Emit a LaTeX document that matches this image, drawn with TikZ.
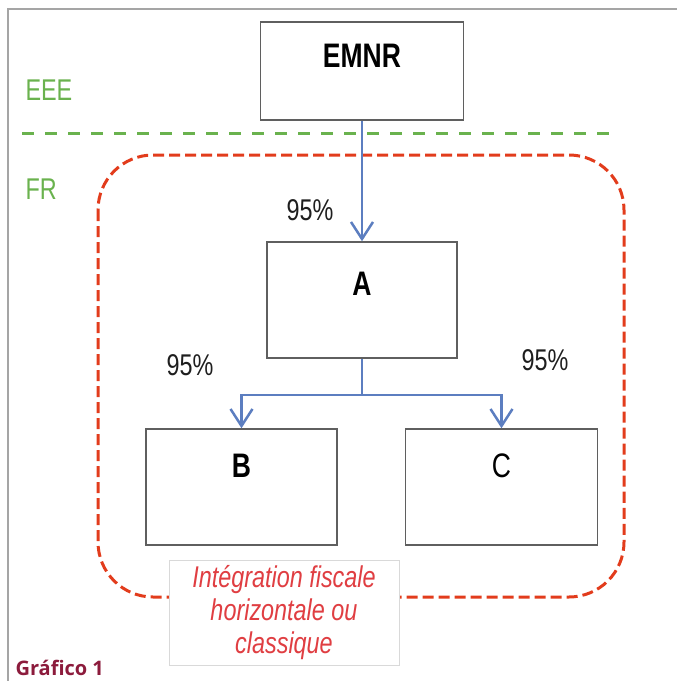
\documentclass[tikz,border=0pt]{standalone}
\usepackage{fontspec}
\setmainfont{Liberation Sans}[FakeStretch=0.78]
\newfontfamily\graficofont{Open Sans}
\usetikzlibrary{
    positioning,
    arrows.meta
}
\definecolor{framegray}{RGB}{165,165,165}
\definecolor{boxgray}{RGB}{95,95,95}
\definecolor{eeegreen}{RGB}{106,178,78}
\definecolor{frred}{RGB}{226,60,28}
\definecolor{notered}{RGB}{224,62,66}
\definecolor{linkblue}{RGB}{92,126,192}
\definecolor{inkgray}{RGB}{30,30,30}
\definecolor{graficored}{RGB}{140,27,60}
\newcommand{\diagfont}{\fontsize{30}{33}\selectfont}
\newcommand{\entityfont}{\fontsize{34}{40}\selectfont}
\tikzset{
    >={Straight Barb[length=17pt,width=22pt]},
    entity/.style={
        draw=boxgray,
        line width=1.5pt,
        fill=white,
        inner sep=0pt
    },
    entitytext/.style={
        anchor=base,
        text=black,
        font=\entityfont
    },
    share/.style={
        anchor=base,
        text=inkgray,
        font=\diagfont
    },
    zone/.style={
        anchor=base west,
        text=eeegreen,
        font=\diagfont
    },
    zonesep/.style={
        draw=eeegreen,
        line width=3pt,
        dash pattern=on 12pt off 11pt
    },
    zoneborder/.style={
        draw=frred,
        line width=3pt,
        dash pattern=on 11pt off 5pt,
        rounded corners=55pt
    },
    link/.style={
        draw=linkblue,
        line width=2.5pt
    }
}
\begin{document}
\begin{tikzpicture}[
    x=1pt,
    y=-1pt
]
    \useasboundingbox (0,0) rectangle (677,681);

    % Cadre
    \draw[framegray, line width=1.5pt] (8,681) -- (8,9) -- (677,9);

    % Zones
    \node[zone] (eee) at (22,100) {EEE};
    \node[zone] (fr)  at (22,199) {FR};
    \draw[zonesep] (22,133) -- (617,133);
    \draw[zoneborder] (98,155) rectangle (624,597);

    % Entites
    \node[entity, minimum width=203, minimum height=98] (emnr) at (362,71)
        {};
    \node[entitytext, font=\entityfont\bfseries] (emnrtext)
        at ([yshift=-46pt]emnr.north) {EMNR};
    \node[entity, minimum width=190, minimum height=116] (a) at (362,300)
        {};
    \node[entitytext, font=\entityfont\bfseries] (atext)
        at ([yshift=-54pt]a.north) {A};
    \node[entity, minimum width=191, minimum height=116] (b) at (241.5,487)
        {};
    \node[entitytext, font=\entityfont\bfseries] (btext)
        at ([yshift=-49pt]b.north) {B};
    \node[entity, minimum width=192, minimum height=116] (c) at (501.5,487)
        {};
    \node[entitytext] (ctext)
        at ([yshift=-49pt]c.north) {C};

    % Participations
    \draw[link, ->] (emnr) -- (a);
    \draw[link, ->] (a.south) -- ++(0,36) -| (b.north);
    \draw[link, ->] (a.south) -- ++(0,36) -| (c.north);
    \node[share] (pemnr) at (310,220) {95\%};
    \node[share] (pb)    at (190,375) {95\%};
    \node[share] (pc)    at (545,370) {95\%};

    % Regime
    \node[draw=black!15, line width=1pt, fill=white, minimum width=230,
          minimum height=105, inner sep=0pt, align=center, text=notered,
          font=\diagfont\itshape] (regime) at (284,612.5)
        {Intégration fiscale\\horizontale ou\\classique};

    % Legende
    \node[anchor=base west, text=graficored,
          font=\graficofont\bfseries\fontsize{20}{24}\selectfont]
        (grafico) at (12,675) {Gráfico 1};
\end{tikzpicture}
\end{document}
